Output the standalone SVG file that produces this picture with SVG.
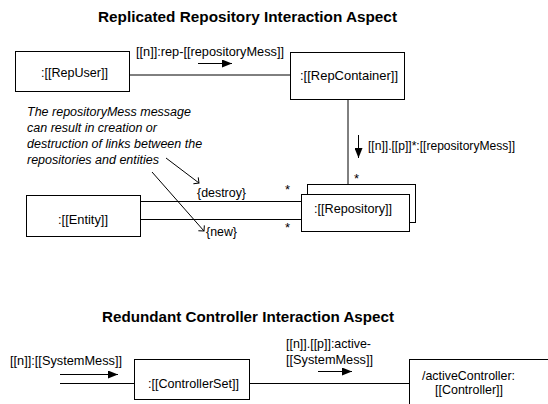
<svg xmlns="http://www.w3.org/2000/svg" width="548" height="404" viewBox="0 0 548 404">
<defs>
<marker id="fill" markerWidth="10" markerHeight="8" refX="10" refY="4" orient="auto" markerUnits="userSpaceOnUse"><path d="M0,0 L10,4 L0,8 Z" fill="#000"/></marker>
<marker id="open" markerWidth="8" markerHeight="12" refX="6.5" refY="6" orient="auto" markerUnits="userSpaceOnUse"><path d="M2.5,2 L6.5,6 L2.5,10" fill="none" stroke="#000" stroke-width="1"/></marker>
</defs>
<style>
text{font-family:"Liberation Sans",Arial,sans-serif;font-size:13px;fill:#000}
.t{font-weight:bold;font-size:15px}
.i{font-style:italic;font-size:12.5px}
.b{fill:#fff;stroke:#000;stroke-width:1}
.c{stroke:#000;stroke-width:1;fill:none}
</style>
<rect width="548" height="404" fill="#fff"/>
<text class="t" x="247.5" y="22" text-anchor="middle" textLength="299" lengthAdjust="spacingAndGlyphs">Replicated Repository Interaction Aspect</text>
<text class="t" x="248" y="322" text-anchor="middle" textLength="292" lengthAdjust="spacingAndGlyphs">Redundant Controller Interaction Aspect</text>
<g id="connectors">
<line class="c" x1="129" y1="75" x2="290" y2="75"/>
<line class="c" x1="348" y1="99" x2="348" y2="184"/>
<line class="c" x1="141" y1="201.5" x2="301" y2="201.5"/>
<line class="c" x1="141" y1="219.5" x2="301" y2="219.5"/>
<line class="c" x1="60" y1="383.5" x2="134" y2="383.5"/>
<line class="c" x1="249" y1="383.5" x2="409" y2="383.5"/>
<line class="c" x1="198" y1="63.5" x2="232" y2="63.5" marker-end="url(#fill)"/>
<line class="c" x1="358.5" y1="135" x2="358.5" y2="158" marker-end="url(#fill)"/>
<line class="c" x1="60" y1="374.5" x2="118" y2="374.5" marker-end="url(#fill)"/>
<line class="c" x1="318" y1="371.5" x2="352" y2="371.5" marker-end="url(#fill)"/>
<line class="c" x1="166" y1="158" x2="199" y2="183" marker-end="url(#open)"/>
<line class="c" x1="152" y1="172" x2="204" y2="231" marker-end="url(#open)"/>
<text x="136" y="56" textLength="148" lengthAdjust="spacingAndGlyphs">[[n]]:rep-[[repositoryMess]]</text>
<text x="368" y="150" textLength="147" lengthAdjust="spacingAndGlyphs">[[n]].[[p]]*:[[repositoryMess]]</text>
<text x="197" y="197" textLength="49" lengthAdjust="spacingAndGlyphs">{destroy}</text>
<text x="206" y="236" textLength="31" lengthAdjust="spacingAndGlyphs">{new}</text>
<text x="285" y="194">*</text>
<text x="285" y="232">*</text>
<text x="354" y="183">*</text>
<text x="10" y="365" textLength="112" lengthAdjust="spacingAndGlyphs">[[n]]:[[SystemMess]]</text>
<text x="286" y="348" textLength="85" lengthAdjust="spacingAndGlyphs">[[n]].[[p]]:active-</text>
<text x="286" y="364" textLength="87" lengthAdjust="spacingAndGlyphs">[[SystemMess]]</text>
</g>
<g id="note">
<text class="i" x="27" y="116">The repositoryMess message</text>
<text class="i" x="27" y="132">can result in creation or</text>
<text class="i" x="27" y="148">destruction of links between the</text>
<text class="i" x="27" y="164">repositories and entities</text>
</g>
<g id="repuser"><rect class="b" x="15.5" y="51.5" width="114" height="40"/><text x="74.5" y="77" text-anchor="middle" textLength="67" lengthAdjust="spacingAndGlyphs">:[[RepUser]]</text></g>
<g id="repcontainer"><rect class="b" x="290.5" y="52.5" width="114" height="47"/><text x="349" y="80" text-anchor="middle" textLength="98" lengthAdjust="spacingAndGlyphs">:[[RepContainer]]</text></g>
<g id="repository"><rect class="b" x="307.5" y="184.5" width="108" height="38"/><rect class="b" x="301.5" y="194.5" width="108" height="37"/><text x="353" y="213" text-anchor="middle" textLength="78" lengthAdjust="spacingAndGlyphs">:[[Repository]]</text></g>
<g id="entity"><rect class="b" x="26.5" y="195.5" width="114" height="41"/><text x="83" y="224" text-anchor="middle" textLength="50" lengthAdjust="spacingAndGlyphs">:[[Entity]]</text></g>
<g id="controllerset"><rect class="b" x="134.5" y="359.5" width="115" height="40"/><text x="193.5" y="388" text-anchor="middle" textLength="91" lengthAdjust="spacingAndGlyphs">:[[ControllerSet]]</text></g>
<g id="activecontroller"><rect class="b" x="409.5" y="359.5" width="150" height="60"/><text x="468.5" y="380" text-anchor="middle" textLength="93" lengthAdjust="spacingAndGlyphs">/activeController:</text><text x="469" y="394" text-anchor="middle" textLength="68" lengthAdjust="spacingAndGlyphs">[[Controller]]</text></g>
</svg>
